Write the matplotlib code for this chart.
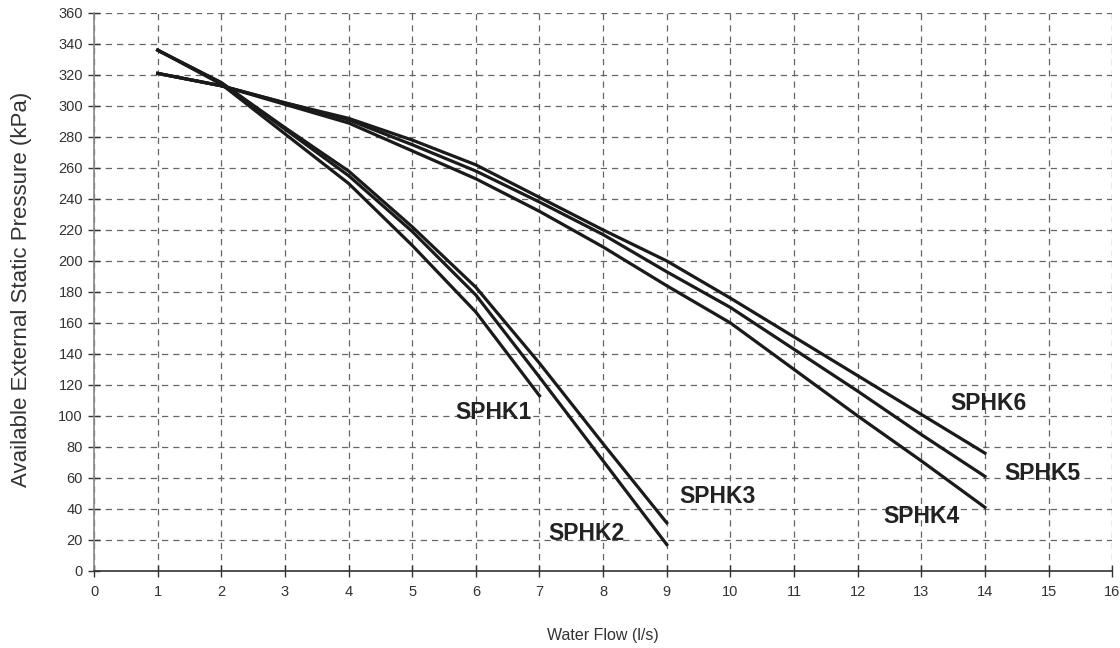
import matplotlib.pyplot as plt

# water flow (l/s) and available external static pressure (kPa)
flow_short = [1, 2, 3, 4, 5, 6, 7]
flow_mid = [1, 2, 3, 4, 5, 6, 7, 8, 9]
flow_long = [1, 2, 3, 4, 5, 6, 7, 8, 9, 10, 11, 12, 13, 14]

sphk1 = [336, 314, 282, 250, 210, 167, 113]
sphk2 = [336, 315, 285, 255, 219, 178, 125, 71, 17]
sphk3 = [336, 315, 286, 258, 222, 183, 134, 82, 31]
sphk4 = [321, 313, 301, 289, 271, 253, 232, 209, 184, 160, 130, 100, 71, 41]
sphk5 = [321, 313, 302, 291, 275, 258, 238, 217, 193, 170, 143, 116, 88, 61]
sphk6 = [321, 313, 302, 292, 278, 262, 241, 220, 200, 176, 151, 126, 101, 76]

labels = ['SPHK1', 'SPHK2', 'SPHK3', 'SPHK4', 'SPHK5', 'SPHK6']
label_x = [5.68, 7.14, 9.2, 12.4, 14.3, 13.45]
label_y = [102, 24, 48, 35, 63, 108]

plt.rcParams['font.family'] = ['Liberation Sans', 'DejaVu Sans']

fig = plt.figure(figsize=(11.2, 6.48), dpi=100)
ax = fig.add_axes([0.084, 0.119, 0.909, 0.861])

series = [(flow_short, sphk1), (flow_mid, sphk2), (flow_mid, sphk3),
          (flow_long, sphk4), (flow_long, sphk5), (flow_long, sphk6)]
for xs, ys in series:
    ax.plot(xs, ys, color='#1a1a1a', lw=2.3, solid_joinstyle='round')

for name, lx, ly in zip(labels, label_x, label_y):
    ax.text(lx, ly, name, fontsize=16.5, fontweight='bold', color='#222222',
            ha='left', va='center')

ax.set_xlim(0, 16)
ax.set_ylim(0, 360)
ax.set_xticks(range(0, 17))
ax.set_yticks(range(0, 361, 20))
ax.grid(True, color='#666666', linestyle=(0, (5, 4)), lw=0.9)
ax.set_axisbelow(True)

for s in ['top', 'right']:
    ax.spines[s].set_visible(False)
ax.spines['left'].set_color('#888888')
ax.spines['left'].set_linewidth(1.2)
ax.spines['bottom'].set_color('#333333')
ax.spines['bottom'].set_linewidth(1.2)

ax.tick_params(direction='inout', length=8, width=1, colors='#333333',
               labelsize=10.5, pad=4)
ax.tick_params(axis='x', pad=6)

ax.set_xlabel('Water Flow (l/s)', fontsize=11.5, color='#333333', labelpad=21)
ax.set_ylabel('Available External Static Pressure (kPa)', fontsize=16,
              color='#333333')
ax.yaxis.set_label_coords(-0.061, 0.504)

fig.savefig('out.png', dpi=100)
